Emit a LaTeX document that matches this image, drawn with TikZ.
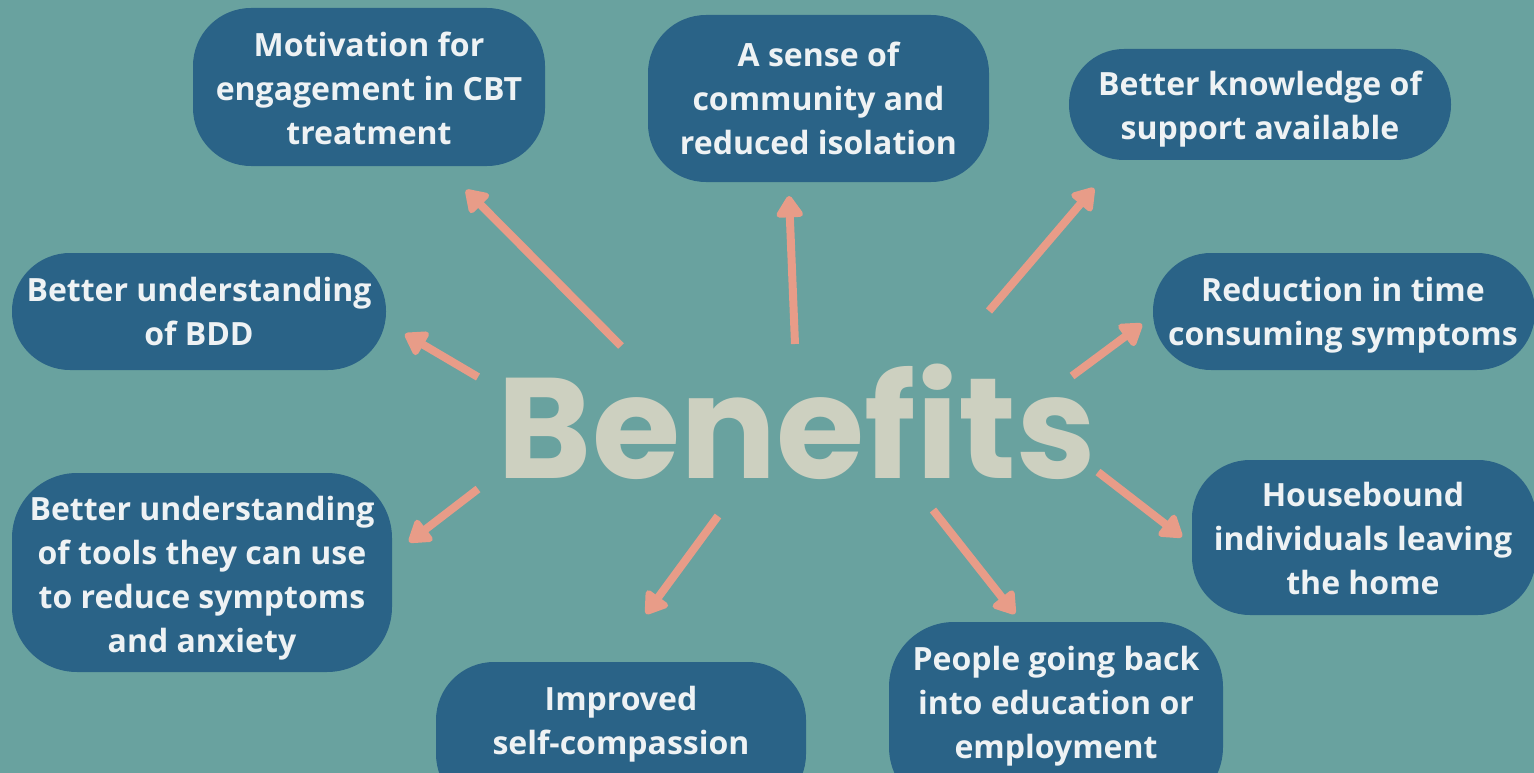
\documentclass[tikz,border=0pt]{standalone}
\usepackage{fontspec}
\setmainfont{Open Sans}
\newfontfamily\poppins{Poppins}
\usetikzlibrary{arrows.meta}
\definecolor{bgc}{HTML}{69A29F}
\definecolor{boxc}{HTML}{2A6387}
\definecolor{txtc}{HTML}{EEF2F4}
\definecolor{arrc}{HTML}{E89C88}
\definecolor{titc}{HTML}{CDD0C0}
\begin{document}
\begin{tikzpicture}[x=1pt,y=-1pt,
  pill/.style={fill=boxc, rounded corners=58pt, text=txtc, align=center,
    font=\fontsize{32}{44}\selectfont\bfseries, inner sep=0pt},
  lbl/.style={text=txtc, align=center, font=\fontsize{32}{44}\selectfont\bfseries, inner sep=0pt},
  arr/.style={draw=arrc, line width=8pt,
    -{Triangle[length=24pt,width=30pt,round]}}
]
\fill[bgc] (0,0) rectangle (1534,773);
\useasboundingbox (0,0) rectangle (1534,773);
% boxes
\node[pill, minimum width=352pt, minimum height=158pt] (mot) at (369,87) {};
\node[lbl] (mott) at (369,88) {Motivation for\\engagement in CBT\\treatment};
\node[pill, minimum width=341pt, minimum height=167pt] (com) at (818.5,98.5) {};
\node[lbl] (comt) at (818.5,98) {A sense of\\community and\\reduced isolation};
\node[pill, minimum width=382pt, minimum height=111pt, rounded corners=55pt] (kno) at (1260,104.5) {};
\node[lbl] (knot) at (1260,109) {Better knowledge of\\support available};
\node[pill, minimum width=374pt, minimum height=117pt] (bdd) at (199,311.5) {};
\node[lbl] (bddt) at (199,311) {Better understanding\\of BDD};
\node[pill, minimum width=382pt, minimum height=117pt] (red) at (1344,311.5) {};
\node[lbl] (redt) at (1343,315) {Reduction in time\\consuming symptoms};
\node[pill, minimum width=380pt, minimum height=199pt, rounded corners=65pt] (too) at (202,572.5) {};
\node[lbl] (toot) at (202,578) {Better understanding\\of tools they can use\\to reduce symptoms\\and anxiety};
\node[pill, minimum width=344pt, minimum height=155pt] (hou) at (1364,537.5) {};
\node[lbl] (hout) at (1363,538) {Housebound\\individuals leaving\\the home};
\node[pill, minimum width=370pt, minimum height=150pt] (imp) at (621,737) {};
\node[lbl] (impt) at (621,724) {Improved\\self-compassion};
\node[pill, minimum width=334pt, minimum height=190pt, rounded corners=65pt] (peo) at (1056,717) {};
\node[lbl] (peot) at (1056,706) {People going back\\into education or\\employment};
% title
\node[text=titc, font=\poppins\fontsize{143}{143}\selectfont\bfseries, inner sep=0pt, anchor=base] (ben) at (797,478) {Benefits};
% arrow coordinates
\coordinate (a1s) at (621,346); \coordinate (a1e) at (466,190);
\coordinate (a2s) at (795,344); \coordinate (a2e) at (789,196);
\coordinate (a3s) at (989,311); \coordinate (a3e) at (1094,188);
\coordinate (a4s) at (478,377); \coordinate (a4e) at (405,334);
\coordinate (a5s) at (1072,376); \coordinate (a5e) at (1142,324);
\coordinate (a6s) at (478,489); \coordinate (a6e) at (409,542);
\coordinate (a7s) at (1098,472); \coordinate (a7e) at (1182,537);
\coordinate (a8s) at (718,516); \coordinate (a8e) at (646,614);
\coordinate (a9s) at (933,510); \coordinate (a9e) at (1015,614);
\foreach \i in {1,...,9} \draw[arr] (a\i s) -- (a\i e);
\end{tikzpicture}
\end{document}
